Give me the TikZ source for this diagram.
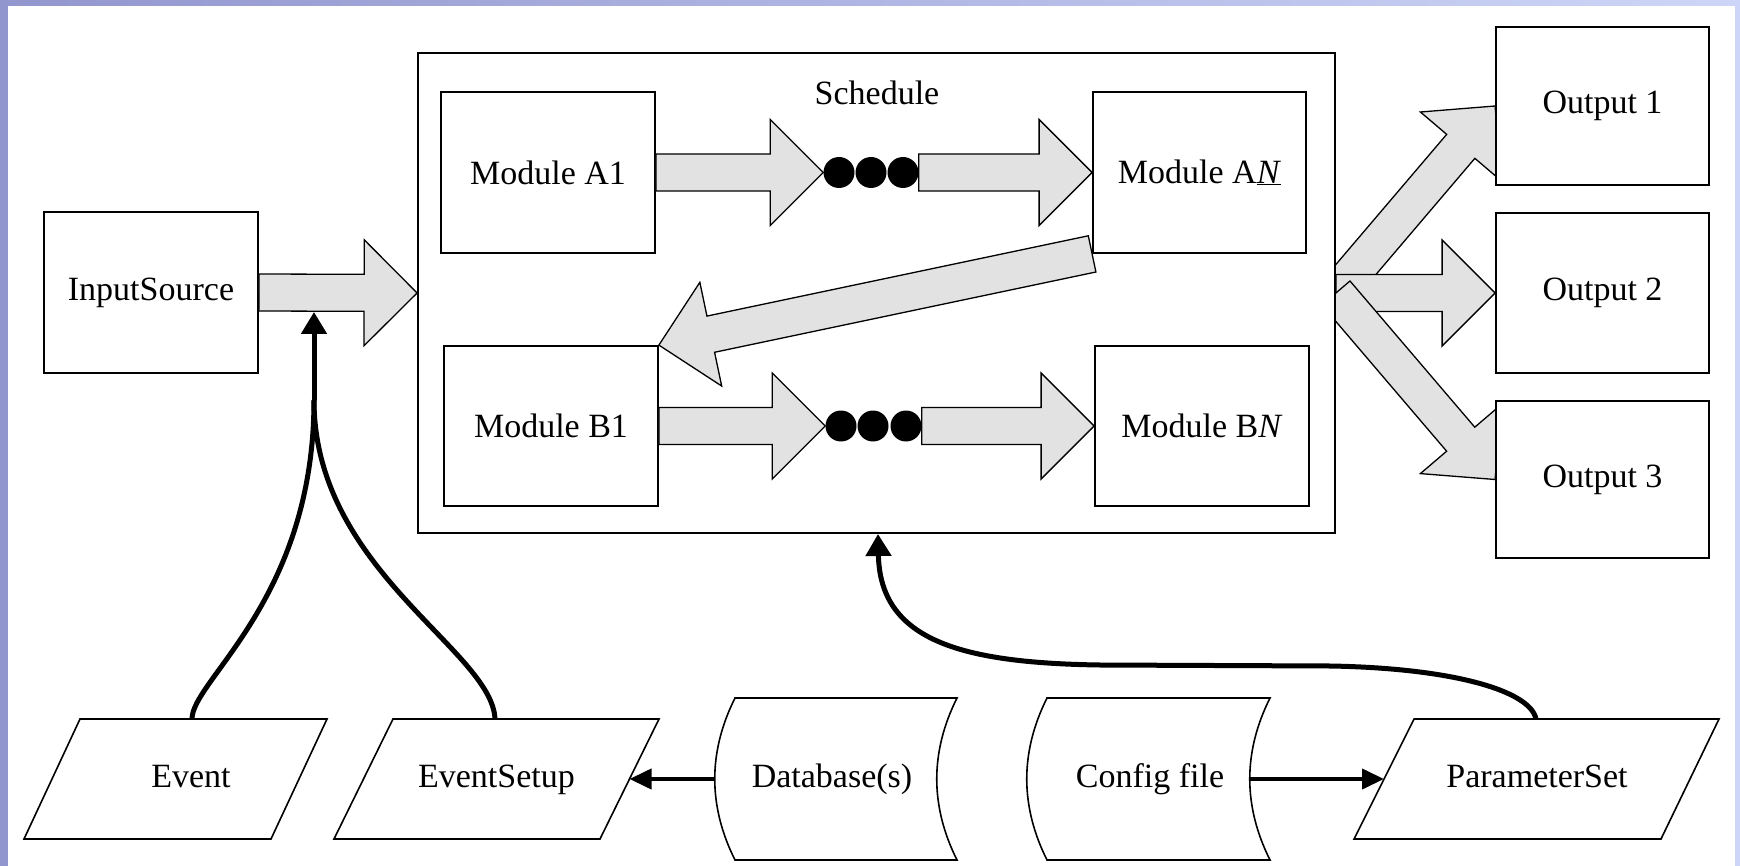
\documentclass[tikz,border=0pt]{standalone}
\usepackage{fontspec}
\setmainfont{Liberation Serif}
\usetikzlibrary{calc,arrows.meta}
\pgfdeclarelayer{back}
\pgfdeclarelayer{mid}
\pgfsetlayers{back,mid,main}
\definecolor{lavA}{RGB}{146,150,206}
\definecolor{lavB}{RGB}{205,214,248}
\definecolor{arrfill}{RGB}{226,226,226}
\newcommand\fatarrow[2]{%
  \coordinate (fah) at ($(#2)!53pt!(#1)$);
  \filldraw[fat] ($(#1)!18.5pt!90:(#2)$) -- ($(fah)!18.5pt!-90:(#1)$) -- ($(fah)!53pt!-90:(#1)$) -- (#2) -- ($(fah)!53pt!90:(#1)$) -- ($(fah)!18.5pt!90:(#1)$) -- ($(#1)!18.5pt!-90:(#2)$) -- cycle;}
\begin{document}
\begin{tikzpicture}[x=1pt,y=-1pt,
  box/.style={draw, line width=1.8pt, fill=white, inner sep=0pt, font=\fontsize{34}{40}\selectfont},
  fat/.style={draw=black, line width=1.3pt, fill=arrfill, line join=miter},
  shp/.style={draw, line width=1.6pt, line join=miter},
  lbl/.style={font=\fontsize{34}{40}\selectfont, inner sep=0pt, text height=24pt, text depth=8pt},
  conn/.style={line width=4pt, -{Triangle[length=22pt,width=20pt]}},
  curve/.style={line width=5pt},
  dot/.style={fill=black, circle, minimum size=31pt, inner sep=0pt}
]
\useasboundingbox (0,0) rectangle (1740,866);
\begin{pgfonlayer}{back}
\fill[left color=lavA, right color=lavB] (0,0) rectangle (1740,866);
\fill[white] (8,6) rectangle (1735,866);
\end{pgfonlayer}

% top part
\node[box, minimum width=214pt, minimum height=161pt] (in) at (151,292.5) {InputSource};
\node[box, minimum width=917pt, minimum height=480pt] (sched) at (876.5,293) {};
\node[lbl] (schedlbl) at (877,97) {Schedule};
\node[box, minimum width=214pt, minimum height=161pt] (a1) at (548,172.5) {Module A1};
\node[box, minimum width=213pt, minimum height=161pt] (an) at (1199.5,172.5) {Module A\underline{\textit{N}}};
\node[box, minimum width=214pt, minimum height=160pt] (b1) at (551,426) {Module B1};
\node[box, minimum width=214pt, minimum height=160pt] (bn) at (1202,426) {Module B\textit{N}};
\node[box, minimum width=213pt, minimum height=158pt] (out1) at (1602.5,106) {Output 1};
\node[box, minimum width=213pt, minimum height=160pt] (out2) at (1602.5,293) {Output 2};
\node[box, minimum width=213pt, minimum height=157pt] (out3) at (1602.5,479.5) {Output 3};

\node[dot] (dA1) at (839,172.5) {};
\node[dot] (dA2) at (871,172.5) {};
\node[dot] (dA3) at (903,172.5) {};
\node[dot] (dB1) at (841,426) {};
\node[dot] (dB2) at (873,426) {};
\node[dot] (dB3) at (906,426) {};

\fatarrow{in.east}{sched.west}
\fatarrow{a1.east}{dA1.west}
\fatarrow{dA3.east}{an.west}
\fatarrow{b1.east}{dB1.west}
\fatarrow{dB3.east}{bn.west}
\fatarrow{an.south west}{b1.north east}

\begin{pgfonlayer}{mid}
\fatarrow{sched.east}{out1.west}
\fatarrow{sched.east}{out2.west}
\fatarrow{sched.east}{out3.west}
\end{pgfonlayer}

% bottom shapes
\draw[shp] (24,839) -- (80,719) -- (327,719) -- (271,839) -- cycle;
\node[lbl] (ev) at (191,779) {Event};
\draw[shp] (334,839) -- (393,719) -- (659,719) -- (600,839) -- cycle;
\node[lbl] (es) at (496.5,779) {EventSetup};
\draw[shp] (735,698) -- (957,698) .. controls (930,752) and (930,806) .. (957,860) -- (735,860) .. controls (708,806) and (708,752) .. (735,698) -- cycle;
\node[lbl] (db) at (832,779) {Database(s)};
\draw[shp] (1047,698) -- (1270,698) .. controls (1243,752) and (1243,806) .. (1270,860) -- (1047,860) .. controls (1020,806) and (1020,752) .. (1047,698) -- cycle;
\node[lbl] (cf) at (1150,779) {Config file};
\draw[shp] (1354,839) -- (1414,719) -- (1719,719) -- (1661,839) -- cycle;
\node[lbl] (ps) at (1537,779) {ParameterSet};

\coordinate (evT) at (192,719);
\coordinate (esT) at (495,719);
\coordinate (psT) at (1536,719);
\coordinate (mrg) at (314,400);
\coordinate (inTip) at (314,312);
\coordinate (dbW) at (715,779);
\coordinate (esE) at (629.5,779);
\coordinate (cfE) at (1250,779);
\coordinate (psW) at (1384,779);
\coordinate (schS) at (878,534);

\draw[conn] (dbW) -- (esE);
\draw[conn] (cfE) -- (psW);
\draw[curve] (evT) .. controls (192,680) and (314,600) .. (mrg);
\draw[curve] (esT) .. controls (492,650) and (314,570) .. (mrg);
\draw[curve, -{Triangle[length=22pt,width=25pt]}] (mrg) -- (inTip);
\draw[curve, -{Triangle[length=22pt,width=25pt]}] (psT) .. controls (1530,690) and (1450,668) .. (1330,666) -- (1100,665) .. controls (960,663) and (880,640) .. (schS);
\end{tikzpicture}
\end{document}
